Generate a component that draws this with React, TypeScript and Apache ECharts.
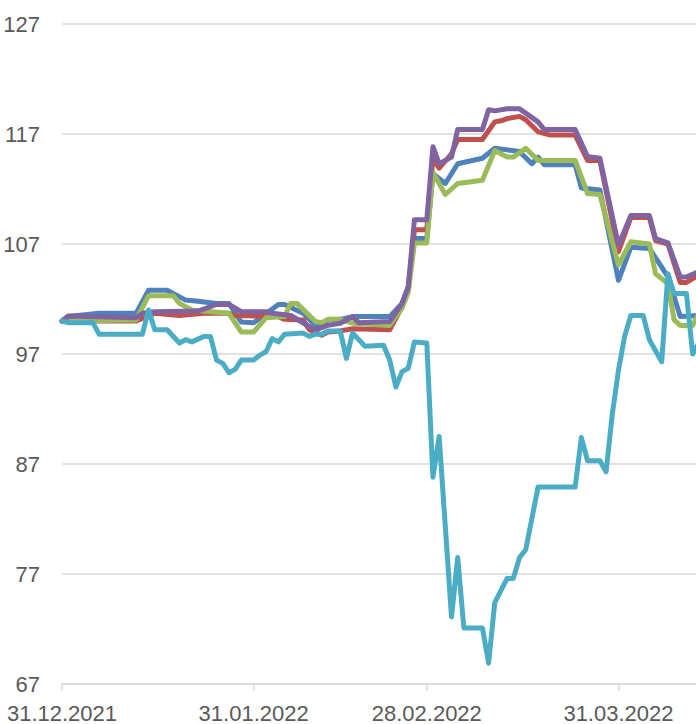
import React, { useEffect, useRef } from "react";
import * as echarts from "echarts";

// Calendar days from 31.12.2021 (index 0) to 14.04.2022 (index 104)
const startDate = { y: 2021, m: 11, d: 31 };
const dayCount = 105;
const tickDayIndices = [0, 31, 59, 90];
const tickLabels = ["31.12.2021", "31.01.2022", "28.02.2022", "31.03.2022"];

// [day index, value] vertices per series
const blueSeries = [
  [0, 100], [1, 100.4], [6, 100.7], [12, 100.7], [14, 102.8], [17, 102.8], [20, 101.9], [22, 101.8],
  [25, 101.6], [27, 101.6], [29, 99.9], [31, 99.85], [35, 101.5], [36, 101.5], [39, 100.7], [41, 99.6],
  [42, 99.5], [43, 100.1], [45, 100.15], [47, 100.4], [53, 100.4], [55, 101.6], [56, 103.1], [57, 107.5],
  [59, 107.5], [60, 113.4], [62, 112.5], [64, 114.3], [68, 114.8], [70, 115.7], [74, 115.4], [76, 114.3],
  [77, 114.9], [78, 114.2], [83, 114.2], [84, 112.1], [87, 111.9], [90, 103.7], [92, 106.7], [95, 106.6],
  [97, 104.9], [98, 104.0], [100, 100.4], [103, 100.5],
];
const redSeries = [
  [0, 100], [12, 100.0], [15, 100.7], [19, 100.5], [23, 100.7], [27, 100.7], [28, 100.5], [35, 100.4],
  [36, 100.15], [39, 100.1], [40, 99.2], [42, 98.7], [43, 99.0], [45, 99.1], [47, 99.3], [53, 99.2],
  [55, 101.3], [56, 102.8], [57, 108.3], [59, 108.3], [60, 114.8], [61, 113.9], [63, 115.2], [64, 116.5],
  [68, 116.5], [70, 118.1], [71, 118.2], [72, 118.4], [74, 118.6], [75, 118.3], [77, 117.2], [79, 116.9],
  [83, 116.9], [85, 114.6], [87, 114.6], [90, 106.3], [92, 109.4], [95, 109.4], [96, 107.3], [98, 107.0],
  [100, 103.5], [101, 103.5], [103, 104.2],
];
const greenSeries = [
  [0, 100], [12, 100.1], [14, 102.3], [18, 102.3], [19, 101.6], [21, 101.0], [27, 100.7], [29, 99.0],
  [31, 99.0], [33, 100.3], [36, 100.4], [37, 101.6], [38, 101.6], [41, 99.95], [42, 99.85], [43, 100.15],
  [45, 100.15], [47, 99.8], [53, 99.6], [55, 101.2], [56, 102.6], [57, 107.1], [59, 107.1], [60, 113.5],
  [62, 111.5], [64, 112.5], [68, 112.8], [70, 115.5], [72, 114.9], [73, 114.9], [75, 115.7], [77, 114.6],
  [83, 114.6], [85, 111.6], [87, 111.5], [90, 105.1], [92, 107.2], [95, 107.0], [96, 104.3], [98, 103.4],
  [99, 100.1], [100, 99.6], [102, 99.6], [103, 100.7],
];
const purpleSeries = [
  [0, 100], [1, 100.45], [12, 100.3], [13, 100.7], [15, 100.85], [22, 100.9], [25, 101.5], [27, 101.5],
  [29, 100.85], [33, 100.85], [34, 100.7], [37, 100.5], [40, 99.5], [41, 99.2], [43, 99.6], [45, 99.8],
  [47, 100.4], [48, 99.85], [53, 99.95], [55, 101.6], [56, 103.1], [57, 109.2], [59, 109.2], [60, 115.85],
  [61, 114.3], [63, 114.9], [64, 117.4], [68, 117.4], [69, 119.2], [70, 119.1], [72, 119.3], [74, 119.3],
  [75, 118.9], [77, 118.1], [78, 117.4], [83, 117.4], [85, 114.95], [87, 114.8], [90, 106.9], [92, 109.6],
  [95, 109.6], [96, 107.5], [98, 107.1], [100, 104.0], [101, 104.0], [103, 104.5],
];
const aquaSeries = [
  [0, 100], [1, 99.85], [5, 99.85], [6, 98.8], [13, 98.8], [14, 101.0], [15, 99.2], [17, 99.2],
  [19, 98.0], [20, 98.3], [21, 98.1], [23, 98.6], [24, 98.6], [25, 96.45], [26, 96.15], [27, 95.3],
  [28, 95.6], [29, 96.45], [31, 96.45], [32, 96.9], [33, 97.2], [34, 98.4], [35, 98.1], [36, 98.8],
  [39, 98.9], [40, 98.6], [41, 98.8], [42, 98.8], [43, 99.1], [45, 99.1], [46, 96.6], [47, 98.9],
  [49, 97.7], [52, 97.8], [53, 96.45], [54, 94.0], [55, 95.4], [56, 95.7], [57, 98.1], [59, 98.0],
  [60, 85.8], [61, 89.5], [63, 73.1], [64, 78.5], [65, 72.1], [68, 72.1], [69, 68.9], [70, 74.4],
  [72, 76.6], [73, 76.6], [74, 78.5], [75, 79.2], [77, 84.9], [83, 84.9], [84, 89.4], [85, 87.3],
  [87, 87.3], [88, 86.3], [89, 91.5], [90, 95.5], [91, 98.6], [92, 100.5], [94, 100.5], [95, 98.3],
  [97, 96.3], [98, 104.3], [99, 102.5], [101, 102.5], [102, 97.0], [103, 98.0],
];

const seriesColors = ["#4F81BD", "#C0504D", "#9BBB59", "#8064A2", "#4BACC6"];

function buildDates(): string[] {
  const out: string[] = [];
  const base = new Date(startDate.y, startDate.m, startDate.d);
  for (let i = 0; i < dayCount; i++) {
    const dt = new Date(base.getFullYear(), base.getMonth(), base.getDate() + i);
    const dd = String(dt.getDate()).padStart(2, "0");
    const mm = String(dt.getMonth() + 1).padStart(2, "0");
    out.push(`${dd}.${mm}.${dt.getFullYear()}`);
  }
  return out;
}

export default function App() {
  const ref = useRef<HTMLDivElement>(null);
  useEffect(() => {
    if (!ref.current) return;
    const chart = echarts.init(ref.current, null, { renderer: "svg" });
    const dates = buildDates();
    const isTick = (i: number) => tickDayIndices.includes(i);
    const font = "'Liberation Sans', Arial, sans-serif";
    const all = [blueSeries, redSeries, greenSeries, purpleSeries, aquaSeries];
    chart.setOption({
      animation: false,
      backgroundColor: "#ffffff",
      grid: { left: 62, right: 0, top: 24, bottom: 40, containLabel: false },
      xAxis: {
        type: "category",
        data: dates,
        boundaryGap: false,
        axisLine: { show: true, lineStyle: { color: "#d9d9d9", width: 1.5 } },
        axisTick: {
          show: true,
          interval: (i: number) => isTick(i),
          length: 7,
          lineStyle: { color: "#d9d9d9", width: 1.5 },
        },
        axisLabel: {
          interval: (i: number) => isTick(i),
          formatter: (v: string) => (tickLabels.includes(v) ? v : ""),
          fontSize: 22,
          color: "#595959",
          fontFamily: font,
          margin: 18,
        },
        splitLine: { show: false },
      },
      yAxis: {
        type: "value",
        min: 67,
        max: 127,
        interval: 10,
        axisLine: { show: false },
        axisTick: { show: false },
        axisLabel: { fontSize: 22, color: "#595959", fontFamily: font, margin: 22 },
        splitLine: { show: true, lineStyle: { color: "#d9d9d9", width: 1.5 } },
      },
      series: all.map((d, i) => ({
        type: "line",
        data: d,
        showSymbol: false,
        symbol: "none",
        z: 2 + i,
        lineStyle: { color: seriesColors[i], width: 5, cap: "round", join: "round" },
        itemStyle: { color: seriesColors[i] },
      })),
    });
    return () => chart.dispose();
  }, []);
  return (
    <div
      ref={ref}
      style={{ position: "fixed", left: 0, top: 0, width: 705, height: 724, background: "#fff" }}
    />
  );
}
